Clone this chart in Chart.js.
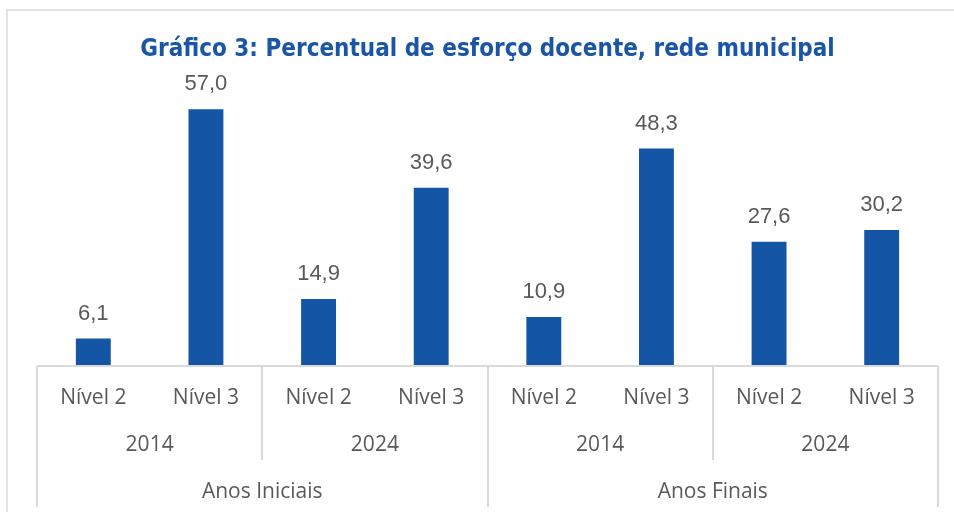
<!DOCTYPE html>
<html>
<head>
<meta charset="utf-8">
<script src="https://cdn.jsdelivr.net/npm/chart.js@4"></script>
<style>
  html, body { margin: 0; padding: 0; background: #fff; }
  #wrap { position: relative; width: 954px; height: 512px; overflow: hidden; }
  #frame { position: absolute; left: 6px; top: 9px; width: 1000px; height: 600px;
           border: 2px solid #e2e2e2; box-sizing: border-box; pointer-events: none; }
  canvas { position: absolute; left: 0; top: 0; }
</style>
</head>
<body>
<div id="wrap">
  <canvas id="chart" width="954" height="512"></canvas>
  <div id="frame"></div>
</div>
<script>
// data
const niveis = ['Nível 2', 'Nível 3', 'Nível 2', 'Nível 3', 'Nível 2', 'Nível 3', 'Nível 2', 'Nível 3'];
const anos = ['2014', '2024', '2014', '2024'];
const etapas = ['Anos Iniciais', 'Anos Finais'];
const valores = [6.1, 57.0, 14.9, 39.6, 10.9, 48.3, 27.6, 30.2];

const axisFont = { family: '"Open Sans", "Noto Sans", sans-serif', size: 21 };
const gray = '#595959';
const lineColor = '#d9d9d9';

// value labels above bars
const valueLabels = {
    id: 'valueLabels',
    afterDatasetsDraw(chart) {
        const ctx = chart.ctx;
        const meta = chart.getDatasetMeta(0);
        ctx.save();
        ctx.font = '22px "Liberation Sans", Arial, sans-serif';
        ctx.fillStyle = gray;
        ctx.textAlign = 'center';
        ctx.textBaseline = 'middle';
        meta.data.forEach((bar, i) => {
            ctx.fillText(valores[i].toFixed(1).replace('.', ','), bar.x, bar.y - 25);
        });
        ctx.restore();
    }
};

// separators between category groups
const separators = {
    id: 'separators',
    afterDraw(chart) {
        const ctx = chart.ctx;
        const x = chart.scales.x;
        const yearBottom = chart.scales.xAno.bottom;
        const groupBottom = chart.scales.xEtapa.bottom;
        ctx.save();
        ctx.strokeStyle = lineColor;
        ctx.lineWidth = 2;
        for (let i = 0; i <= niveis.length; i += 2) {
            const px = Math.round(x.getPixelForValue(i - 0.5));
            const end = (i % 4 === 0) ? groupBottom : yearBottom;
            ctx.beginPath();
            ctx.moveTo(px, x.top);
            ctx.lineTo(px, end);
            ctx.stroke();
        }
        ctx.beginPath();
        ctx.moveTo(x.left, x.top);
        ctx.lineTo(x.right, x.top);
        ctx.stroke();
        ctx.restore();
    }
};

new Chart(document.getElementById('chart'), {
    type: 'bar',
    data: {
        labels: niveis,
        datasets: [{
            data: valores,
            backgroundColor: '#1555a6',
            categoryPercentage: 1,
            barPercentage: 0.31
        }]
    },
    options: {
        responsive: false,
        animation: false,
        layout: { padding: { left: 37, right: 16, top: 0, bottom: 5 } },
        plugins: {
            legend: { display: false },
            tooltip: { enabled: false },
            title: {
                display: true,
                text: 'Gráfico 3: Percentual de esforço docente, rede municipal',
                color: '#1a56a5',
                font: { family: '"Liberation Sans Narrow", "DejaVu Sans Condensed", Roboto, sans-serif', size: 24, weight: 'bold', lineHeight: 1.2 },
                padding: { top: 35, bottom: 32 }
            }
        },
        scales: {
            y: { display: false, min: 0, max: 60 },
            x: {
                grid: { display: false },
                border: { display: false },
                ticks: { color: gray, font: axisFont, padding: 11, maxRotation: 0 },
                afterFit: s => { s.height = 47; }
            },
            xAno: {
                type: 'category',
                position: 'bottom',
                labels: anos,
                offset: true,
                grid: { display: false },
                border: { display: false },
                ticks: { color: gray, font: axisFont, padding: 11, maxRotation: 0 },
                afterFit: s => { s.height = 47; }
            },
            xEtapa: {
                type: 'category',
                position: 'bottom',
                labels: etapas,
                offset: true,
                grid: { display: false },
                border: { display: false },
                ticks: { color: gray, font: axisFont, padding: 11, maxRotation: 0 },
                afterFit: s => { s.height = 47; }
            }
        }
    },
    plugins: [valueLabels, separators]
});
</script>
</body>
</html>
